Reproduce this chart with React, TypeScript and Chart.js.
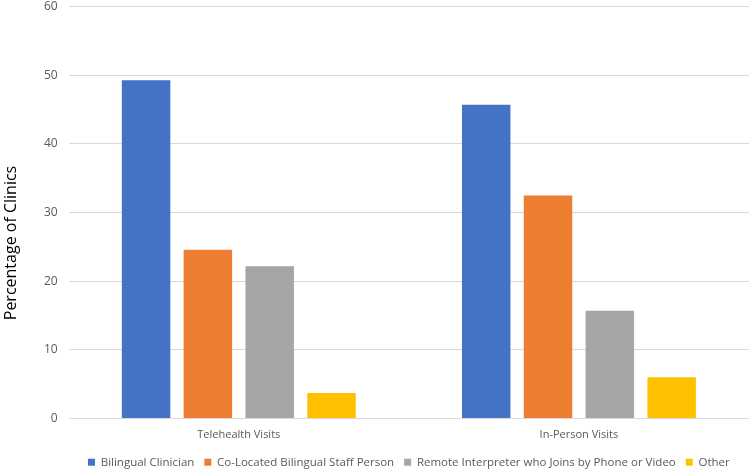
import React, { useEffect, useRef } from "react";
import { Chart, registerables } from "chart.js";

Chart.register(...registerables);

const categories = ["Telehealth Visits", "In-Person Visits"];
const seriesNames = [
  "Bilingual Clinician",
  "Co-Located Bilingual Staff Person",
  "Remote Interpreter who Joins by Phone or Video",
  "Other",
];
const bilingualClinician = [49.3, 45.7];
const coLocatedStaff = [24.6, 32.5];
const remoteInterpreter = [22.2, 15.7];
const other = [3.7, 6.0];
const colors = ["#4472C4", "#ED7D31", "#A5A5A5", "#FFC000"];
const yTitle = "Percentage of Clinics";

const FONT = "'Open Sans', 'Noto Sans', sans-serif";

const yTitlePlugin = {
  id: "yTitlePlugin",
  afterDraw(chart: any) {
    const ctx = chart.ctx;
    ctx.save();
    ctx.translate(11, 243);
    ctx.rotate(-Math.PI / 2);
    ctx.font = `16px ${FONT}`;
    ctx.fillStyle = "#000000";
    ctx.textAlign = "center";
    ctx.textBaseline = "middle";
    ctx.fillText(yTitle, 0, 0);
    ctx.restore();
  },
};

export default function App() {
  const ref = useRef<HTMLCanvasElement>(null);
  useEffect(() => {
    document.body.style.margin = "0";
    const values = [bilingualClinician, coLocatedStaff, remoteInterpreter, other];
    const chart = new Chart(ref.current!, {
      type: "bar",
      data: {
        labels: categories,
        datasets: seriesNames.map((name, i) => ({
          label: name,
          data: values[i],
          backgroundColor: colors[i],
          borderWidth: 0,
          categoryPercentage: 0.727,
          barPercentage: 0.784,
        })),
      },
      options: {
        responsive: false,
        animation: false,
        devicePixelRatio: 1,
        layout: { padding: { left: 33, right: 1, top: 0, bottom: -8 } },
        plugins: {
          legend: {
            position: "bottom",
            fullSize: false,
            labels: {
              boxWidth: 7,
              boxHeight: 7,
              padding: 10,
              color: "#595959",
              font: { family: FONT, size: 11.5 },
            },
          },
          tooltip: { enabled: false },
          title: { display: false },
        },
        scales: {
          x: {
            grid: { display: false, drawTicks: false },
            border: { display: false },
            ticks: {
              color: "#595959",
              font: { family: FONT, size: 11 },
              padding: 10,
            },
            afterFit(scale: any) {
              scale.height = 28;
            },
          },
          y: {
            min: 0,
            max: 60,
            grid: { color: "#D9D9D9", drawTicks: false, lineWidth: 1 },
            border: { display: false },
            ticks: {
              stepSize: 10,
              color: "#595959",
              font: { family: FONT, size: 12 },
              padding: 11,
            },
            afterFit(scale: any) {
              scale.paddingTop = 6.7;
              scale.paddingBottom = 0;
            },
          },
        },
      },
      plugins: [yTitlePlugin],
    });
    return () => chart.destroy();
  }, []);
  return (
    <div style={{ position: "absolute", left: 0, top: 0, width: 750, height: 470 }}>
      <canvas ref={ref} width={750} height={470} style={{ width: 750, height: 470 }} />
    </div>
  );
}
